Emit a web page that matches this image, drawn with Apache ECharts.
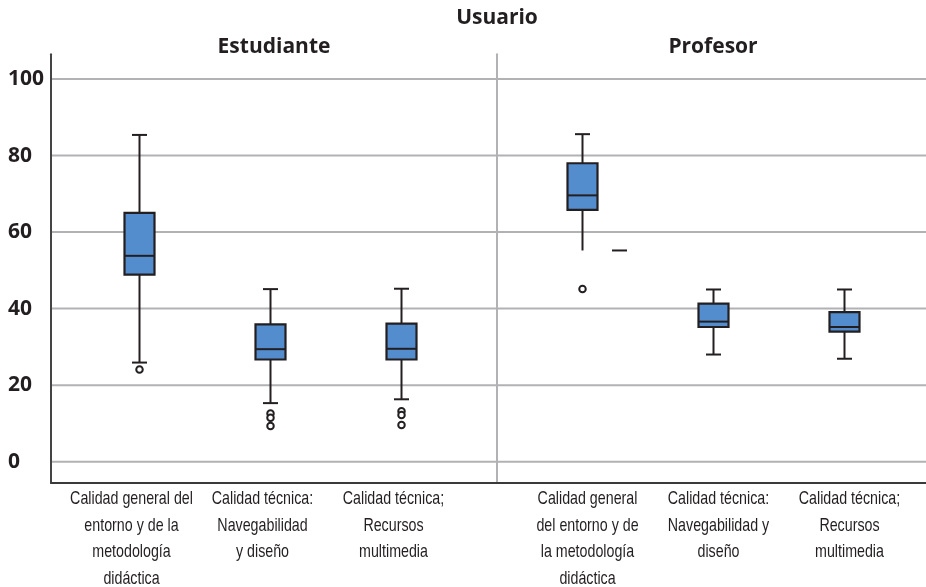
<!DOCTYPE html>
<html>
<head>
<meta charset="utf-8">
<script src="https://cdn.jsdelivr.net/npm/echarts@6/dist/echarts.min.js"></script>
<style>
  html, body { margin: 0; padding: 0; background: #fff; }
  #chart { width: 926px; height: 587px; }
</style>
</head>
<body>
<div id="chart"></div>
<script>
// Value axis labels / grid lines
const yTicks = [0, 20, 40, 60, 80, 100];

const groupTitle = 'Usuario';
const groups = ['Estudiante', 'Profesor'];

const catsEstudiante = [
  'Calidad general del\nentorno y de la\nmetodología\ndidáctica',
  'Calidad técnica:\nNavegabilidad\ny diseño',
  'Calidad técnica;\nRecursos\nmultimedia'
];
const catsProfesor = [
  'Calidad general\ndel entorno y de\nla metodología\ndidáctica',
  'Calidad técnica:\nNavegabilidad y\ndiseño',
  'Calidad técnica;\nRecursos\nmultimedia'
];

// [lower whisker, Q1, median, Q3, upper whisker]
const boxesEstudiante = [
  [25.9, 48.9, 53.8, 65.0, 85.4],
  [15.3, 26.7, 29.4, 35.9, 45.1],
  [16.3, 26.7, 29.5, 36.1, 45.2]
];
const boxesProfesor = [
  [55.2, 65.8, 69.6, 78.0, 85.6],
  [28.0, 35.2, 36.6, 41.3, 45.0],
  [26.9, 34.0, 35.2, 39.1, 45.0]
];

// [category index, value]
const outliersEstudiante = [[0, 24.1], [1, 12.6], [1, 11.5], [1, 9.3], [2, 13.2], [2, 12.2], [2, 9.6]];
const outliersProfesor = [[0, 45.1]];

const Y_MIN = -5.5, Y_MAX = 106.5;
const INK = '#231f20';
const GRID_GRAY = '#b2b2b5';
const BOX_FILL = '#538dce';
const LABEL_FONT = '19px "Liberation Sans", Arial, sans-serif';
const BOLD = '"Open Sans", "Liberation Sans", sans-serif';

const chart = echarts.init(document.getElementById('chart'), null, { renderer: 'canvas' });

function makeBoxSeries(gridIdx, boxes, lowCapShift) {
  return {
    type: 'custom',
    xAxisIndex: gridIdx + 1,
    yAxisIndex: gridIdx + 1,
    z: 3,
    data: boxes.map((b, i) => [i].concat(b)),
    encode: { x: 0, y: [1, 2, 3, 4, 5] },
    renderItem: function (params, api) {
      const i = api.value(0);
      const x = api.coord([i, 0])[0];
      const yLow = api.coord([i, api.value(1)])[1];
      const yQ1 = api.coord([i, api.value(2)])[1];
      const yMed = api.coord([i, api.value(3)])[1];
      const yQ3 = api.coord([i, api.value(4)])[1];
      const yHigh = api.coord([i, api.value(5)])[1];
      const bw = 30, cw = 15;
      const shift = (lowCapShift && lowCapShift[i]) || 0;
      const stroke = { stroke: INK, lineWidth: 2 };
      return {
        type: 'group',
        children: [
          { type: 'line', shape: { x1: x, y1: yHigh, x2: x, y2: yQ3 }, style: stroke },
          { type: 'line', shape: { x1: x, y1: yQ1, x2: x, y2: yLow }, style: stroke },
          { type: 'line', shape: { x1: x - cw / 2, y1: yHigh, x2: x + cw / 2, y2: yHigh }, style: stroke },
          { type: 'line', shape: { x1: x + shift - cw / 2, y1: yLow, x2: x + shift + cw / 2, y2: yLow }, style: stroke },
          { type: 'rect', shape: { x: x - bw / 2, y: yQ3, width: bw, height: yQ1 - yQ3 },
            style: { fill: BOX_FILL, stroke: INK, lineWidth: 2.2 } },
          { type: 'line', shape: { x1: x - bw / 2, y1: yMed, x2: x + bw / 2, y2: yMed }, style: stroke }
        ]
      };
    }
  };
}

function makeOutlierSeries(gridIdx, pts) {
  return {
    type: 'scatter',
    xAxisIndex: gridIdx + 1,
    yAxisIndex: gridIdx + 1,
    z: 4,
    symbol: 'circle',
    symbolSize: 6.5,
    itemStyle: { color: '#fff', borderColor: INK, borderWidth: 2, opacity: 1 },
    data: pts
  };
}

// Category names under each box, in a narrowed sans face
function makeLabelSeries(gridIdx, cats, dx) {
  return {
    type: 'custom',
    xAxisIndex: gridIdx + 1,
    yAxisIndex: gridIdx + 1,
    z: 3,
    silent: true,
    data: cats.map((c, i) => [i, Y_MIN]),
    renderItem: function (params, api) {
      const i = api.value(0);
      const p = api.coord([i, api.value(1)]);
      return {
        type: 'text',
        x: p[0] + dx,
        y: p[1] + 3,
        scaleX: 0.75,
        style: {
          text: cats[i],
          align: 'center',
          verticalAlign: 'top',
          font: LABEL_FONT,
          lineHeight: 26.5,
          fill: INK
        }
      };
    }
  };
}

function catAxis(gridIndex, cats) {
  return {
    type: 'category',
    gridIndex: gridIndex,
    data: cats,
    boundaryGap: true,
    axisLine: { show: false },
    axisTick: { show: false },
    splitLine: { show: false },
    axisLabel: { show: false }
  };
}

const option = {
  backgroundColor: '#fff',
  animation: false,
  grid: [
    { left: 51, right: 0, top: 54.2, bottom: 104.3 },
    { left: 74, width: 393, top: 54.2, bottom: 104.3 },
    { left: 517, width: 393, top: 54.2, bottom: 104.3 }
  ],
  xAxis: [
    {
      type: 'value', gridIndex: 0, min: 0, max: 1, z: 5,
      axisLine: { show: true, onZero: false, lineStyle: { color: '#3a3a3a', width: 2 } },
      axisTick: { show: false }, axisLabel: { show: false }, splitLine: { show: false }
    },
    catAxis(1, catsEstudiante),
    catAxis(2, catsProfesor)
  ],
  yAxis: [
    {
      type: 'value', gridIndex: 0, min: Y_MIN, max: Y_MAX, interval: 0.5, z: 5,
      axisLine: { show: true, onZero: false, lineStyle: { color: '#444', width: 2 } },
      axisTick: { show: false },
      splitLine: { show: false },
      axisLabel: {
        align: 'left',
        margin: 43,
        fontFamily: BOLD,
        fontWeight: 'bold',
        fontSize: 21,
        color: INK,
        formatter: v => (yTicks.indexOf(v) >= 0 ? String(v) : '')
      }
    },
    {
      type: 'value', gridIndex: 1, min: Y_MIN, max: Y_MAX, show: false,
      splitLine: { show: false }
    },
    {
      type: 'value', gridIndex: 2, min: Y_MIN, max: Y_MAX, offset: 20, z: 1,
      axisLine: { show: true, onZero: false, lineStyle: { color: GRID_GRAY, width: 2 } },
      axisTick: { show: false }, axisLabel: { show: false }, splitLine: { show: false }
    }
  ],
  graphic: [
    { type: 'text', x: 497, y: 18, z: 10,
      style: { text: groupTitle, align: 'center', verticalAlign: 'middle',
               font: 'bold 21px ' + BOLD, fill: INK } },
    { type: 'text', x: 274, y: 47, z: 10,
      style: { text: groups[0], align: 'center', verticalAlign: 'middle',
               font: 'bold 21px ' + BOLD, fill: INK } },
    { type: 'text', x: 713, y: 47, z: 10,
      style: { text: groups[1], align: 'center', verticalAlign: 'middle',
               font: 'bold 21px ' + BOLD, fill: INK } }
  ],
  series: [
    {
      type: 'custom',
      xAxisIndex: 0,
      yAxisIndex: 0,
      z: 1,
      silent: true,
      data: yTicks.map(v => [0, v]),
      renderItem: function (params, api) {
        const cs = params.coordSys;
        const y = api.coord([0, api.value(1)])[1];
        return {
          type: 'line',
          shape: { x1: cs.x, y1: y, x2: cs.x + cs.width, y2: y },
          style: { stroke: GRID_GRAY, lineWidth: 2 }
        };
      }
    },
    makeBoxSeries(0, boxesEstudiante, null),
    makeBoxSeries(1, boxesProfesor, { 0: 37 }),
    makeOutlierSeries(0, outliersEstudiante),
    makeOutlierSeries(1, outliersProfesor),
    makeLabelSeries(0, catsEstudiante, -8),
    makeLabelSeries(1, catsProfesor, 5)
  ]
};

chart.setOption(option);
</script>
</body>
</html>
